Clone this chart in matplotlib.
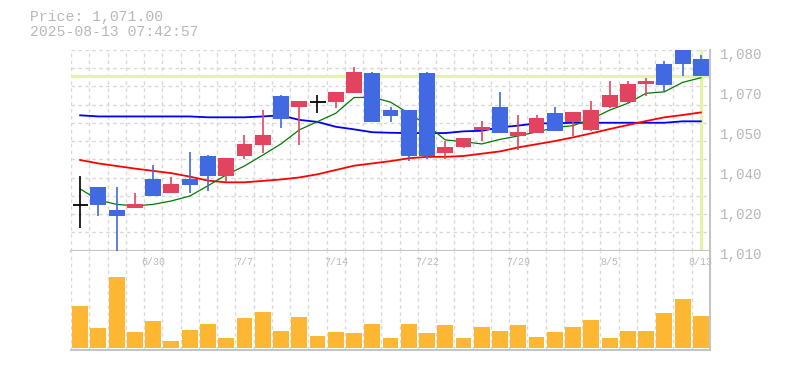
import matplotlib
matplotlib.use("Agg")
import matplotlib.pyplot as plt
import numpy as np
from matplotlib.transforms import ScaledTranslation, blended_transform_factory

# ---------------- data ----------------
dates = ["6/24", "6/25", "6/26", "6/27", "6/30", "7/1", "7/2", "7/3", "7/4", "7/7",
         "7/8", "7/9", "7/10", "7/11", "7/14", "7/15", "7/16", "7/17", "7/18", "7/22",
         "7/23", "7/24", "7/25", "7/28", "7/29", "7/30", "7/31", "8/1", "8/4", "8/5",
         "8/6", "8/7", "8/8", "8/12", "8/13"]
label_dates = ["6/30", "7/7", "7/14", "7/22", "7/29", "8/5", "8/13"]

opens  = [1026, 1032, 1024, 1025, 1035, 1030, 1035, 1043, 1036, 1043,
          1047, 1064, 1060, 1062, 1062, 1065, 1072, 1059, 1059, 1072,
          1044, 1046, 1052, 1060, 1050, 1051, 1058, 1055, 1052, 1060,
          1062, 1068, 1075, 1080, 1077]
highs  = [1036, 1032, 1032, 1030, 1040, 1035.5, 1044.4, 1043.3, 1042.3, 1050.3,
          1059, 1064.3, 1062.2, 1064.3, 1065.3, 1074.2, 1072.3, 1060.1, 1059, 1072.3,
          1048.3, 1049.3, 1055.2, 1065.3, 1057.2, 1057.2, 1060.1, 1058.4, 1062.2, 1069.2,
          1069.2, 1070.2, 1076.2, 1080, 1078.4]
lows   = [1018, 1022, 1010, 1025, 1029, 1030, 1030.2, 1030.9, 1033.8, 1041.9,
          1044.1, 1052.9, 1046.9, 1058.1, 1059.9, 1065, 1055, 1055, 1041.1, 1042,
          1042, 1045.8, 1048.1, 1051, 1045.1, 1051, 1051.8, 1050.1, 1051.8, 1059.9,
          1061, 1063.9, 1065.8, 1071, 1071]
closes = [1026, 1026, 1022, 1026.2, 1029, 1033.2, 1032.9, 1036, 1042.3, 1047.2,
          1050.3, 1056, 1062.2, 1062, 1065.3, 1072.3, 1055, 1057.1, 1043.1, 1042.9,
          1046.1, 1049.3, 1053.1, 1051, 1051.4, 1056.3, 1051.8, 1058.4, 1059, 1064.3,
          1068.1, 1069.2, 1067.9, 1075, 1071]
volumes = [12500, 5900, 21200, 4700, 8000, 2000, 5300, 7100, 2900, 8900,
           10700, 5000, 9200, 3500, 4700, 4400, 7100, 2900, 7100, 4400,
           6800, 2900, 6200, 5000, 6800, 3200, 4700, 6200, 8300, 2900,
           5000, 5000, 10400, 14600, 9500]
ma_short = [1031.5, 1027.6, 1026.1, 1025.6, 1026.1, 1027.3, 1029.0, 1032.6, 1036.4, 1039.5,
            1043.3, 1047.2, 1052.1, 1055.0, 1057.9, 1063.4, 1063.5, 1061.8, 1057.9, 1053.8,
            1048.6, 1048.0, 1047.2, 1048.8, 1050.0, 1051.4, 1052.9, 1053.6, 1055.9, 1059.0,
            1061.4, 1064.9, 1065.4, 1068.7, 1070.3]
ma_mid   = [1057.2, 1056.8, 1056.8, 1056.8, 1056.8, 1056.8, 1056.8, 1056.5, 1056.5, 1056.5,
            1056.8, 1057.2, 1055.6, 1054.9, 1053.2, 1052.3, 1051.3, 1051.1, 1051.0, 1051.0,
            1051.0, 1051.6, 1051.8, 1053.0, 1053.6, 1054.4, 1054.4, 1054.6, 1054.6, 1054.6,
            1054.6, 1054.6, 1054.6, 1055.1, 1055.1]
ma_long  = [1041.6, 1040.4, 1039.5, 1038.6, 1037.8, 1037.0, 1035.8, 1034.4, 1033.8, 1033.8,
            1034.3, 1034.8, 1035.5, 1036.6, 1038.1, 1039.6, 1040.4, 1041.2, 1042.2, 1042.7,
            1042.7, 1043.0, 1043.8, 1044.6, 1046.0, 1047.1, 1048.2, 1049.5, 1050.9, 1052.4,
            1053.8, 1055.2, 1056.5, 1057.3, 1058.2]
last_price = 1071.0
title_lines = ["Price: 1,071.00", "2025-08-13 07:42:57"]
y_ticks = [1010, 1024, 1038, 1052, 1066, 1080]
y_ticklabels = ["1,010", "1,020", "1,040", "1,050", "1,070", "1,080"]

# ---------------- style ----------------
W, H = 785, 370
UP = "#e2445f"
DOWN = "#4169e1"
DOJI = "#000000"
VOLC = "#fdb733"
GRID = "#d8d8d8"
SPINE = "#c4c4c4"
TXT = "#b8b8b8"
HL = "#e4f3a6"
MONO = ["Liberation Mono", "DejaVu Sans Mono"]

fig = plt.figure(figsize=(W / 100, H / 100), dpi=100)
fig.patch.set_facecolor("white")

L, R = 71, 710
PT, PB = 50, 250.5
VB = 350
axp = fig.add_axes([L / W, 1 - PB / H, (R - L) / W, (PB - PT) / H])
axv = fig.add_axes([L / W, 1 - VB / H, (R - L) / W, (VB - PB) / H], sharex=axp)

n = len(dates)
x = np.arange(n)
axp.set_xlim(-0.5, n - 0.5)
axp.set_ylim(1010, 1080)

for ax in (axp, axv):
    ax.set_facecolor("white")
    for s in ("left", "top"):
        ax.spines[s].set_visible(False)
    for s in ("bottom", "right"):
        ax.spines[s].set_color(SPINE)
        ax.spines[s].set_linewidth(1.5)
    # vertical grid at candle boundaries
    for i in range(n):
        ax.axvline(i - 0.5, color=GRID, lw=1, ls=(0, (2.5, 2.5)), zorder=0)
    ax.tick_params(axis="x", length=0, labelbottom=False)

# horizontal grid in price panel
for k in range(1, 12):
    yv = 1010 + k * 70 / 11
    axp.axhline(yv, color=GRID, lw=1, ls=(0, (2.5, 2.5)), zorder=0)

# current price crosshair
axp.axhline(last_price, color=HL, lw=2.3, zorder=1)
axp.axvline(n - 1, color=HL, lw=2.3, zorder=1)

# moving averages
axp.plot(x, ma_mid, color="#0000ee", lw=1.3, zorder=2)
axp.plot(x, ma_long, color="#ff0000", lw=1.3, zorder=2)
axp.plot(x, ma_short, color="#007a00", lw=0.9, zorder=2)

# candles
bw = 0.87
for i in range(n):
    o, h, l, c = opens[i], highs[i], lows[i], closes[i]
    if abs(c - o) < 0.05:
        col = DOJI
        axp.vlines(i, l, h, color=col, lw=1.2, zorder=3)
        axp.hlines(o, i - 0.45 * bw / 0.87 * 0.87, i + 0.45, color=col, lw=1.3, zorder=3)
        continue
    col = UP if c > o else DOWN
    axp.vlines(i, l, h, color=col, lw=1.2, zorder=3)
    axp.bar(i, abs(c - o), bottom=min(o, c), width=bw, color=col, zorder=4, linewidth=0)

# price axis labels on right
axp.yaxis.tick_right()
axp.set_yticks(y_ticks)
axp.set_yticklabels(y_ticklabels)
axp.tick_params(axis="y", length=0, pad=7, labelsize=10.3, labelcolor=TXT)
for lab in axp.get_yticklabels():
    lab.set_fontfamily(MONO)
    lab.set_transform(lab.get_transform() + ScaledTranslation(0, -3 / 100, fig.dpi_scale_trans))

# volume
vmax_px = VB - PB
axv.bar(x, volumes, width=bw, color=VOLC, linewidth=0, zorder=2)
scale = 100 * 3  # 1 px = 300 volume units
axv.set_ylim(-2.3 * scale, (vmax_px - 2.3) * scale)
axv.set_yticks([])
axv.spines["top"].set_visible(False)

# date labels inside volume panel
tr = blended_transform_factory(axv.transData, axv.transAxes)
for d in label_dates:
    i = dates.index(d)
    axv.text(i, (VB - 262) / (VB - PB), d, transform=tr, ha="center", va="center",
             fontsize=7.2, color=TXT, family=MONO, zorder=5)

# title text
fig.text(30 / W, 1 - 17 / H, title_lines[0], ha="left", va="center", fontsize=10.6,
         color=TXT, family=MONO)
fig.text(30 / W, 1 - 32 / H, title_lines[1], ha="left", va="center", fontsize=10.6,
         color=TXT, family=MONO)

fig.savefig("out.png", dpi=100, facecolor="white")
